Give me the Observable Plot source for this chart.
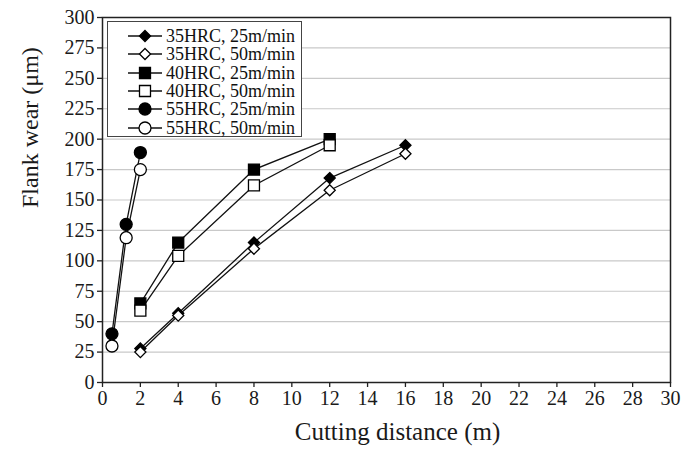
<!DOCTYPE html>
<html>
<head>
<meta charset="utf-8">
<script src="https://cdn.jsdelivr.net/npm/d3@7"></script>
<script src="https://cdn.jsdelivr.net/npm/@observablehq/plot@0.6"></script>
<style>
  html, body { margin: 0; padding: 0; background: white; }
  #wrap { position: relative; width: 683px; height: 457px; }
  #wrap svg, #wrap svg text { font-family: "Liberation Serif", serif !important; }
  #legend {
    position: absolute; left: 107px; top: 21px; width: 195px; height: 116px;
    border: 1.5px solid #444; background: white; box-sizing: border-box;
    font-family: "Liberation Serif", serif; font-size: 18px; color: #111;
  }
  .row { position: absolute; left: 0; height: 18px; display: flex; align-items: center; }
  .row svg { flex: none; }
  .row span { margin-left: 2px; white-space: nowrap; line-height: 18px; }
</style>
</head>
<body>
<div id="wrap"><div id="legend"></div></div>
<script>
// ---- data ----
const seriesLabels = ["35HRC, 25m/min", "35HRC, 50m/min", "40HRC, 25m/min", "40HRC, 50m/min", "55HRC, 25m/min", "55HRC, 50m/min"];
const distance35 = [2, 4, 8, 12, 16];
const wear35_25 = [28, 57, 115, 168, 195];
const wear35_50 = [25, 55, 110, 158, 188];
const distance40 = [2, 4, 8, 12];
const wear40_25 = [65, 115, 175, 200];
const wear40_50 = [59, 104, 162, 195];
const distance55 = [0.5, 1.25, 2];
const wear55_25 = [40, 130, 189];
const wear55_50 = [30, 119, 175];
const xTicks = [0, 2, 4, 6, 8, 10, 12, 14, 16, 18, 20, 22, 24, 26, 28, 30];
const yTicks = [0, 25, 50, 75, 100, 125, 150, 175, 200, 225, 250, 275, 300];

// marker styles per series (symbol, fill, size)
const styles = [
  {symbol: "diamond2", fill: "black", r: 5},
  {symbol: "diamond2", fill: "white", r: 5},
  {symbol: "square", fill: "black", r: 6.2},
  {symbol: "square", fill: "white", r: 6.2},
  {symbol: "circle", fill: "black", r: 6},
  {symbol: "circle", fill: "white", r: 6}
];

const seriesData = [
  [distance35, wear35_25], [distance35, wear35_50],
  [distance40, wear40_25], [distance40, wear40_50],
  [distance55, wear55_25], [distance55, wear55_50]
];
const rows = seriesData.flatMap(([xs, ys], i) => xs.map((x, j) => ({series: seriesLabels[i], idx: i, x, y: ys[j]})));

const dotMarks = styles.map((s, i) => Plot.dot(rows.filter(d => d.idx === i), {
  x: "x", y: "y", symbol: () => s.symbol, r: s.r, fill: s.fill, stroke: "black", strokeWidth: 1.3
}));

const serif = "Liberation Serif";
const chart = Plot.plot({
  width: 683, height: 457,
  marginLeft: 102, marginRight: 13, marginTop: 17, marginBottom: 75,
  style: {fontFamily: serif, fontSize: "19px", color: "#1a1a1a", background: "white"},
  x: {domain: [0, 30]},
  y: {domain: [0, 300]},
  symbol: {type: "identity"},
  marks: [
    Plot.gridY(yTicks, {stroke: "#c9c9c9", strokeOpacity: 1, strokeWidth: 1.2}),
    Plot.frame({stroke: "#222", strokeWidth: 1.5}),
    Plot.axisX(xTicks, {tickSize: 5, tickPadding: 3, fontSize: 20, fontFamily: serif, label: null, stroke: "#222", strokeWidth: 1.3}),
    Plot.axisY(yTicks, {tickSize: 5, tickPadding: 3, fontSize: 20, fontFamily: serif, label: null, stroke: "#222", strokeWidth: 1.3}),
    Plot.line(rows, {x: "x", y: "y", z: "series", stroke: "#111", strokeWidth: 1.3}),
    ...dotMarks,
    Plot.text(["Cutting distance (m)"], {frameAnchor: "bottom", dy: 57, dx: 11, fontSize: 25, fontFamily: serif, fill: "#1a1a1a"}),
    Plot.text(["Flank wear (μm)"], {frameAnchor: "left", rotate: -90, dx: -72, dy: 8, fontSize: 24, fontFamily: serif, fill: "#1a1a1a"})
  ]
});
document.getElementById("wrap").prepend(chart);
chart.style.position = "absolute";
chart.style.left = "0";
chart.style.top = "0";

// legend
const legend = d3.select("#legend");
seriesLabels.forEach((lab, i) => {
  const s = styles[i];
  const row = legend.append("div").attr("class", "row").style("top", (5 + i * 18.3) + "px");
  const svg = row.append("svg").attr("width", 56).attr("height", 18);
  svg.append("line").attr("x1", 20).attr("x2", 54).attr("y1", 9).attr("y2", 9).attr("stroke", "#111").attr("stroke-width", 1.3);
  const sym = {diamond2: d3.symbolDiamond2, square: d3.symbolSquare, circle: d3.symbolCircle}[s.symbol];
  svg.append("path").attr("transform", "translate(37,9)")
    .attr("d", d3.symbol(sym, Math.PI * s.r * s.r)())
    .attr("fill", s.fill).attr("stroke", "black").attr("stroke-width", 1.3);
  row.append("span").text(lab);
});
</script>
</body>
</html>
